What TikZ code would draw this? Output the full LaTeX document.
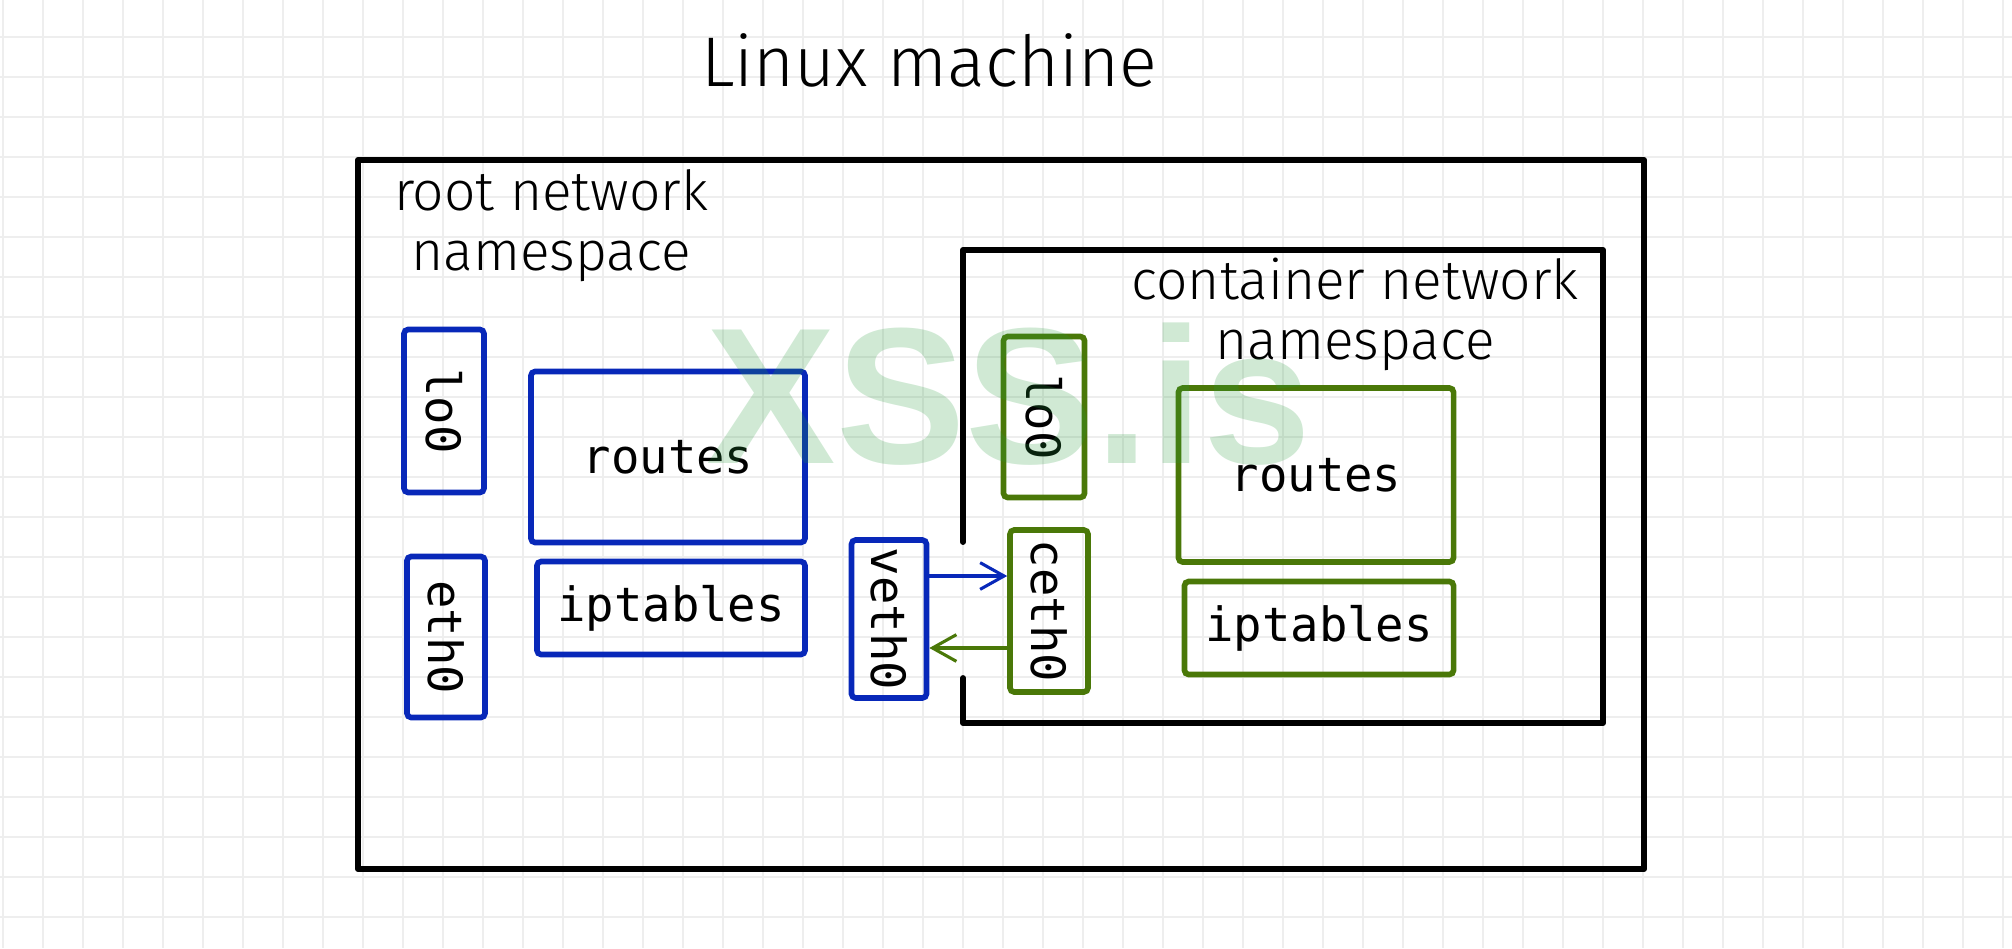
\documentclass[tikz,border=0pt]{standalone}
\usepackage{fontspec}
\usetikzlibrary{arrows.meta,calc}
\newfontfamily\handfont{Fira Sans Light}
\newfontfamily\codefont{DejaVu Sans Mono}
\newfontfamily\markfont{Liberation Sans}
\definecolor{nsblue}{RGB}{8,40,185}
\definecolor{nsgreen}{RGB}{74,120,8}
\definecolor{gridgray}{RGB}{238,238,238}
\definecolor{markgreen}{RGB}{39,155,60}
\newcommand{\pxu}{0.35566pt}
\tikzset{
  gridline/.style={draw=gridgray, line width=0.9pt},
  frame/.style={line width=2.1pt, line cap=round, line join=round},
  hand/.style={font=\handfont\fontsize{19.6pt}{21.3pt}\selectfont, align=center},
  boxsize/.style 2 args={minimum width=#1*\pxu, minimum height=#2*\pxu},
  ifbox/.style={draw, line width=2pt, rounded corners=1.5pt, inner sep=0pt,
    font=\codefont\fontsize{16.8pt}{19pt}\selectfont},
  rootbox/.style={ifbox, draw=nsblue},
  ctbox/.style={ifbox, draw=nsgreen},
  link/.style={line width=1.1pt, -{Straight Barb[length=8.5pt,width=9.5pt]}},
  watermark/.style={font=\markfont\bfseries\fontsize{69pt}{69pt}\selectfont,
    text=markgreen, text opacity=0.22}
}

\begin{document}
\begin{tikzpicture}[x=0.0125cm, y=-0.0125cm]
  \useasboundingbox (0,0) rectangle (2012,948);

  % Drawing the paper grid
  \foreach \gx in {3,43,...,2011}
    \draw[gridline] (\gx,0) -- (\gx,948);
  \foreach \gy in {37,77,...,917}
    \draw[gridline] (0,\gy) -- (2012,\gy);

  % Marking title
  \node[hand, font=\handfont\fontsize{25pt}{28pt}\selectfont] (title) at (929,60) {Linux machine};

  % Drawing host frame
  \draw[frame] (358,160) rectangle (1644,869);
  \node[hand] (rootns) at (551,226) {root network\\namespace};

  % Drawing container frame (left side open at the veth pair)
  \draw[frame] (963,542) -- (963,250) -- (1603,250) -- (1603,723) -- (963,723) -- (963,678);
  \node[hand] (ctns) at (1355,314) {container network\\namespace};

  % Root namespace parts
  \node[rootbox, boxsize={80}{163}] (rlo) at (444,411) {\rotatebox{-90}{lo0}};
  \node[rootbox, boxsize={274}{171}] (rroutes) at (668,457) {routes};
  \node[rootbox, boxsize={78}{161}] (reth) at (446,637) {\rotatebox{-90}{eth0}};
  \node[rootbox, boxsize={268}{93}] (riptables) at (671,608) {iptables};
  \node[rootbox, boxsize={75}{158}] (veth) at (889,619) {\rotatebox{-90}{veth0}};

  % Container namespace parts
  \node[ctbox, boxsize={81}{161}] (clo) at (1044,417) {\rotatebox{-90}{lo0}};
  \node[ctbox, boxsize={78}{162}] (ceth) at (1049,611) {\rotatebox{-90}{ceth0}};
  \node[ctbox, boxsize={275}{174}] (croutes) at (1316,475) {routes};
  \node[ctbox, boxsize={269}{93}] (ciptables) at (1319,628) {iptables};

  % Drawing the veth pair links
  \coordinate (vout) at ($(veth.east)+(0,-43)$);
  \coordinate (cout) at ($(ceth.west)+(0,37)$);
  \draw[link, draw=nsblue] (vout) -- (vout -| ceth.west);
  \draw[link, draw=nsgreen] (cout) -- (cout -| veth.east);

  % Marking watermark
  \node[watermark, anchor=base] (mark) at (1009,463) {XSS.is};
\end{tikzpicture}
\end{document}
